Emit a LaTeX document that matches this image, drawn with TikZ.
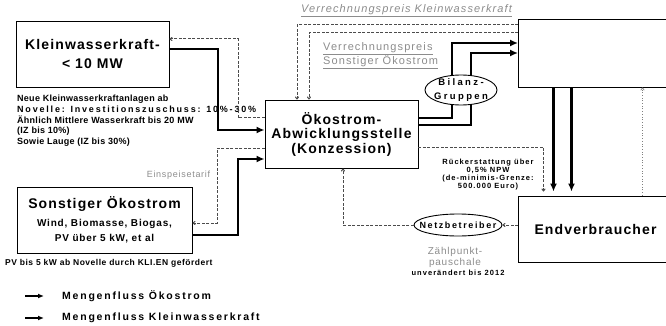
\documentclass[tikz,border=0pt]{standalone}
\usepackage{fontspec}
\setmainfont{Liberation Sans}
\usetikzlibrary{arrows.meta,shapes.geometric}

\begin{document}
\begin{tikzpicture}[x=1pt,y=-1pt,
  box node/.style={draw,line width=0.9pt,inner sep=0pt,align=center,font=\fontsize{14}{19}\selectfont\bfseries\addfontfeatures{LetterSpace=8}},
  ell node/.style={ellipse,draw,fill=white,line width=0.9pt,inner sep=0pt},
  note/.style={inner sep=0pt,align=left,font=\fontsize{9}{10.7}\selectfont\bfseries\addfontfeatures{LetterSpace=3}},
  small/.style={inner sep=0pt,align=center,font=\fontsize{7.5}{8}\selectfont\bfseries\addfontfeatures{LetterSpace=14}},
  price/.style={inner sep=0pt,align=left,text=black!45,font=\fontsize{11}{11}\selectfont\addfontfeatures{LetterSpace=10}},
  legend/.style={inner sep=0pt,anchor=west,font=\fontsize{10.5}{12}\selectfont\bfseries\addfontfeatures{LetterSpace=17}},
  flow/.style={line width=2.4pt,-{Latex[length=8pt,width=7pt]}},
  money/.style={line width=1pt,black!70,dash pattern=on 3pt off 1.5pt,-{To[length=3pt,width=4pt]}},
  count/.style={line width=0.7pt,black!50,dotted,-{To[length=3pt,width=4pt]}}]

\useasboundingbox (0,0) rectangle (666,326);

\node[box node,minimum width=153pt,minimum height=66pt] (kw) at (92.5,54) {Kleinwasserkraft-\\< 10 MW};
\node[box node,minimum width=153pt,minimum height=68pt,font=\fontsize{14}{14.5}\selectfont\bfseries\addfontfeatures{LetterSpace=8}] (oe) at (341.5,134) {Ökostrom-\\Abwicklungsstelle\\(Konzession)};
\node[box node,minimum width=175pt,minimum height=66pt] (so) at (104.5,220) {Sonstiger Ökostrom\\[-1pt]{\fontsize{10}{15}\selectfont Wind, Biomasse, Biogas,}\\[-4pt]{\fontsize{10}{15}\selectfont PV über 5 kW, et al}};
\node[box node,minimum width=154pt,minimum height=68pt] (tr) at (595.5,53) {};
\node[box node,minimum width=154pt,minimum height=66pt] (ev) at (595.5,229) {Endverbraucher};

\node[note,anchor=north west] (kwtxt) at (17,95) {Neue Kleinwasserkraftanlagen ab\\{\addfontfeatures{LetterSpace=20}Novelle: Investitionszuschuss: 10\%-30\%}\\Ähnlich Mittlere Wasserkraft bis 20 MW\\(IZ bis 10\%)\\Sowie Lauge (IZ bis 30\%)};
\node[note,anchor=west,font=\fontsize{8.5}{10}\selectfont\bfseries\addfontfeatures{LetterSpace=6}] (pvtxt) at (5,263) {PV bis 5 kW ab Novelle durch KLI.EN gefördert};
\node[price,font=\fontsize{9}{10}\selectfont\addfontfeatures{LetterSpace=8}] (einsp) at (178.5,175) {Einspeisetarif};
\node[price,font=\fontsize{11}{11}\selectfont\itshape\addfontfeatures{LetterSpace=10}] (vkw) at (406.5,11) {\underline{Verrechnungspreis Kleinwasserkraft}};
\node[price,anchor=west] (vso) at (323,55.5) {\underline{Verrechnungspreis}\\\underline{Sonstiger Ökostrom}};
\node[small] (rueck) at (488,175) {Rückerstattung über\\0,5\% NPW\\(de-minimis-Grenze:\\500.000 Euro)};
\node[price,align=center,font=\fontsize{10}{11}\selectfont\addfontfeatures{LetterSpace=8}] (zp) at (455,257.5) {Zählpunkt-\\pauschale};
\node[small] (unv) at (458,273) {unverändert bis 2012};

\draw[flow] ([yshift=5pt]kw.east) -| (218,130) -- ([yshift=4pt]oe.west);
\draw[money] ([yshift=16pt]oe.west) -| (238,39) -- ([yshift=15pt]kw.east);
\draw[flow] ([yshift=-15pt]so.east) -| (238,159) -- ([yshift=-25pt]oe.west);
\draw[money] ([yshift=-14pt]oe.west) -| (217,223) -- ([yshift=-3pt]so.east);

\draw[money] ([yshift=28pt]tr.west) -| ([xshift=-44.5pt]oe.north);
\draw[money] ([yshift=20pt]tr.west) -| ([xshift=-32.5pt]oe.north);

\draw[flow] ([yshift=16pt]oe.east) -| (452,43) -- ([yshift=10pt]tr.west);
\draw[flow] ([yshift=9pt]oe.east) -| (471,53) -- (tr.west);

\node[ell node,minimum width=72pt,minimum height=30pt,label={[small,font=\fontsize{9.5}{14}\selectfont\bfseries\addfontfeatures{LetterSpace=25}]center:{Bilanz-\\Gruppen}}] (bg) at (461,90) {};
\node[ell node,minimum width=88pt,minimum height=22pt,label={[small,font=\fontsize{9}{10}\selectfont\bfseries\addfontfeatures{LetterSpace=18}]center:Netzbetreiber}] (nb) at (458,225) {};

\path[] ([xshift=-42pt]tr.south) [flow,shorten >=4pt] edge node [] {} ([xshift=-42pt]ev.north);
\path[] ([xshift=-24pt]tr.south) [flow,shorten >=4pt] edge node [] {} ([xshift=-24pt]ev.north);
\draw[money,shorten >=4pt] ([yshift=-13pt]oe.east) -| ([xshift=-52pt]ev.north);
\path[] ([xshift=47pt]ev.north) [count] edge node [] {} ([xshift=47pt]tr.south);
\path[] (ev.west |- nb.east) [money] edge node [] {} (nb.east);
\draw[money] (nb.west) -| ([xshift=1.5pt]oe.south);

\coordinate (l1a) at (25,296);
\coordinate (l1b) at (44,296);
\coordinate (l2a) at (25,318);
\coordinate (l2b) at (44,318);
\draw[flow,line width=1.6pt,-{Latex[length=6pt,width=5pt]}] (l1a) -- (l1b);
\draw[flow,line width=1.6pt,-{Latex[length=6pt,width=5pt]}] (l2a) -- (l2b);
\node[legend] (lg1) at (62,296) {Mengenfluss Ökostrom};
\node[legend] (lg2) at (62,318) {Mengenfluss Kleinwasserkraft};

\end{tikzpicture}
\end{document}
